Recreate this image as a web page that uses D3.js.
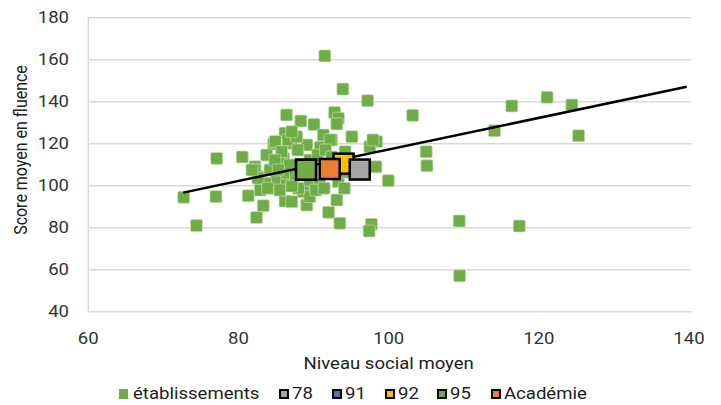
<!DOCTYPE html>
<html><head><meta charset="utf-8">
<script src="https://cdn.jsdelivr.net/npm/d3@7"></script>
<style>body{margin:0;background:#fff}svg{display:block;font-family:Roboto,"Noto Sans",sans-serif}</style>
</head><body><svg id="c" width="721" height="405"></svg>
<script>
// établissements
const etabX = [72.7,74.4,77.1,77.0,80.5,81.3,83.3,82.4,91.5,93.9,97.2,103.2,86.4,88.3,90.05,92.8,93.3,93.1,86.2,91.3,95.1,92.4,98.4,84.7,87.1,89.1,90.9,94.2,97.5,83.75,86.0,82.2,82.6,84.2,85.1,86.4,98.3,99.95,93.3,88.6,89.5,86.2,89.1,93.1,92.0,93.5,97.7,97.4,116.4,121.1,124.4,125.3,114.1,105.0,105.1,109.4,117.4,109.45,84.9,86.6,85.75,87.75,92.2,97.9,87.1,82.2,86.4,88.6,89.5,88.0,87.1,83.6,84.85,85.5,86.8,87.6,89.5,90.55,91.6,87.9,89.5,90.8,92.4,94.1,82.9,82.6,83.9,85.3,87.1,88.2,81.8,90.3,91.4,94.1];
const etabY = [94.5,81.0,113.0,94.8,113.7,95.2,90.5,84.8,161.8,146.0,140.5,133.5,133.7,130.8,129.2,134.8,132.1,129.4,125.0,124.1,123.3,121.8,121.0,119.9,120.2,119.4,118.3,116.2,118.6,114.6,113.0,109.0,104.3,107.5,102.7,105.9,109.0,102.4,101.9,98.8,97.1,92.7,90.8,93.2,87.3,82.1,81.6,78.4,138.0,142.1,138.4,123.8,126.2,116.2,109.5,83.2,80.8,57.1,121.0,121.8,116.2,123.3,121.8,121.8,125.7,107.5,100.3,97.1,94.8,98.8,92.4,101.2,112.2,97.9,109.9,105.1,112.2,114.6,117.0,117.0,102.7,100.3,113.7,106.5,97.9,103.6,98.8,107.5,99.8,106.5,107.5,97.9,98.8,98.8];
// group means (drawing order)
const groupNames = ["91","92","95","78","Académie"];
const groupX = [89.0, 94.0, 89.0, 96.15, 92.15];
const groupY = [107.6, 110.5, 107.6, 107.7, 107.95];
const groupColors = ["#4472C4","#FFC000","#70AD47","#A5A5A5","#ED7D31"];
// trend line endpoints
const trendX = [72.65, 139.7];
const trendY = [96.7, 147.1];
// ticks
const xTicks = [60,80,100,120,140];
const yTicks = [40,60,80,100,120,140,160,180];
// legend
const legendNames = ["établissements","78","91","92","95","Académie"];
const legendColors = ["#70AD47","#A5A5A5","#4472C4","#FFC000","#70AD47","#ED7D31"];

const svg = d3.select("#c");
const x = d3.scaleLinear().domain([60,140]).range([88.3,689]);
const y = d3.scaleLinear().domain([40,180]).range([311.7,17.7]);
const SX = 1.16; // horizontal stretch of text in the reference

function htext(sel, px, py, anchor, str, color, baseline){
  const gg = sel.append("g").attr("transform",`translate(${px},${py}) scale(${SX},1)`);
  const t = gg.append("text").attr("text-anchor",anchor).attr("font-size",16).attr("fill",color).text(str);
  if (baseline) t.attr("dominant-baseline",baseline);
  return t;
}

// gridlines
svg.append("g").selectAll("line").data(yTicks).join("line")
  .attr("x1",x(60)).attr("x2",x(140)+2.5).attr("y1",d=>y(d)).attr("y2",d=>y(d))
  .attr("stroke","#d9d9d9").attr("stroke-width",1.5);
svg.append("line").attr("x1",x(60)).attr("x2",x(60)).attr("y1",y(180)).attr("y2",y(40))
  .attr("stroke","#d9d9d9").attr("stroke-width",1.5);

// tick labels
const yl = svg.append("g");
yTicks.forEach(d=>htext(yl,69,y(d),"end",d,"#333","central"));
const xl = svg.append("g");
xTicks.forEach(d=>htext(xl,x(d),338,"middle",d,"#333","central"));

// axis titles
htext(svg,(x(60)+x(140))/2,369,"middle","Niveau social moyen","#222");
svg.append("g").attr("transform","translate(27,150) scale(1.1,1) rotate(-90)").append("text").attr("text-anchor","middle")
  .attr("font-size",16).attr("fill","#222").text("Score moyen en fluence");

// points
const s = 12;
svg.append("g").selectAll("rect").data(etabX.map((d,i)=>[d,etabY[i]])).join("rect")
  .attr("x",d=>x(d[0])-s/2).attr("y",d=>y(d[1])-s/2).attr("width",s).attr("height",s)
  .attr("rx",1.5).attr("fill","#70AD47").attr("stroke","#c5e0b4").attr("stroke-width",0.7);

// trend line
svg.append("line").attr("x1",x(trendX[0])).attr("y1",y(trendY[0])).attr("x2",x(trendX[1])).attr("y2",y(trendY[1]))
  .attr("stroke","#000").attr("stroke-width",2.5);

// group markers
const g = 20;
svg.append("g").selectAll("rect").data(groupNames.map((n,i)=>i)).join("rect")
  .attr("x",i=>x(groupX[i])-g/2).attr("y",i=>y(groupY[i])-g/2).attr("width",g).attr("height",g)
  .attr("fill",i=>groupColors[i]).attr("stroke","#000").attr("stroke-width",2.5);

// legend
const legX = [119,279,332,385,437,491];
const leg = svg.append("g");
legendNames.forEach((n,i)=>{
  leg.append("rect").attr("x",legX[i]+(i===0?0:1)).attr("y",i===0?389:390)
    .attr("width",i===0?9:8).attr("height",i===0?10:8)
    .attr("fill",legendColors[i]).attr("stroke",i===0?"none":"#000").attr("stroke-width",2);
  htext(leg,legX[i]+(i===0?14:13),399,"start",n,"#222");
});
</script></body></html>
